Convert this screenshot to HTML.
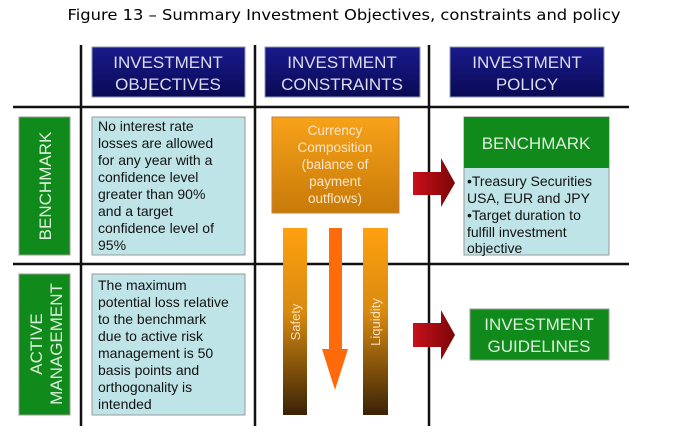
<!DOCTYPE html>
<html><head><meta charset="utf-8"><style>
html,body{margin:0;padding:0;background:#fff;}
svg{display:block;}
text{font-family:"Liberation Sans",Arial,sans-serif;}
</style></head><body>
<svg width="688" height="446" viewBox="0 0 688 446" xmlns="http://www.w3.org/2000/svg">
<defs>
<linearGradient id="blue" x1="0" y1="0" x2="0" y2="1"><stop offset="0" stop-color="#1a1a8c"/><stop offset="1" stop-color="#0a0a55"/></linearGradient>
<linearGradient id="org" x1="0" y1="0" x2="0" y2="1"><stop offset="0" stop-color="#f7a21a"/><stop offset="1" stop-color="#c87a08"/></linearGradient>
<linearGradient id="bar" x1="0" y1="0" x2="0" y2="1"><stop offset="0" stop-color="#ffa010"/><stop offset="0.45" stop-color="#d88a10"/><stop offset="1" stop-color="#3a2206"/></linearGradient>
<linearGradient id="red" x1="0" y1="0" x2="1" y2="0"><stop offset="0" stop-color="#c8101a"/><stop offset="1" stop-color="#7a0608"/></linearGradient>
</defs>
<text x="344" y="20" text-anchor="middle" font-size="15" textLength="553" lengthAdjust="spacingAndGlyphs" style="font-family:'DejaVu Sans',sans-serif">Figure 13 – Summary Investment Objectives, constraints and policy</text>

<!-- grid lines -->
<g stroke="#111" stroke-width="2.5">
<line x1="81" y1="45" x2="81" y2="426"/>
<line x1="255" y1="45" x2="255" y2="426"/>
<line x1="429" y1="45" x2="429" y2="426"/>
<line x1="13" y1="107" x2="629" y2="107"/>
<line x1="13" y1="264" x2="629" y2="264"/>
</g>

<!-- headers -->
<g font-size="17" fill="#dde" text-anchor="middle">
<rect x="92" y="47" width="153" height="50" fill="url(#blue)" stroke="#8899aa"/>
<text x="168" y="68">INVESTMENT</text><text x="168" y="90">OBJECTIVES</text>
<rect x="265" y="47" width="155" height="50" fill="url(#blue)" stroke="#8899aa"/>
<text x="342" y="68">INVESTMENT</text><text x="342" y="90">CONSTRAINTS</text>
<rect x="450" y="47" width="154" height="50" fill="url(#blue)" stroke="#8899aa"/>
<text x="527" y="68">INVESTMENT</text><text x="527" y="90">POLICY</text>
</g>

<!-- left green labels -->
<rect x="19" y="117" width="51" height="138" fill="#108a1a" stroke="#999"/>
<text transform="translate(51,186) rotate(-90)" text-anchor="middle" font-size="17" fill="#ddf0dd">BENCHMARK</text>
<rect x="19" y="274" width="51" height="141" fill="#108a1a" stroke="#999"/>
<text transform="translate(42,344) rotate(-90)" text-anchor="middle" font-size="17" fill="#ddf0dd">ACTIVE</text>
<text transform="translate(62,344) rotate(-90)" text-anchor="middle" font-size="17" fill="#ddf0dd">MANAGEMENT</text>

<!-- objective boxes -->
<rect x="92" y="117" width="153" height="138" fill="#bfe4e8" stroke="#999"/>
<g font-size="14" fill="#111">
<text x="98" y="131">No interest rate</text>
<text x="98" y="148">losses are allowed</text>
<text x="98" y="165">for any year with a</text>
<text x="98" y="182">confidence level</text>
<text x="98" y="199">greater than 90%</text>
<text x="98" y="216">and a target</text>
<text x="98" y="233">confidence level of</text>
<text x="98" y="250">95%</text>
</g>
<rect x="92" y="274" width="153" height="141" fill="#bfe4e8" stroke="#999"/>
<g font-size="14" fill="#111">
<text x="98" y="290">The maximum</text>
<text x="98" y="307">potential loss relative</text>
<text x="98" y="324">to the benchmark</text>
<text x="98" y="341">due to active risk</text>
<text x="98" y="358">management is 50</text>
<text x="98" y="375">basis points and</text>
<text x="98" y="392">orthogonality is</text>
<text x="98" y="409">intended</text>
</g>

<!-- constraints -->
<rect x="272" y="117" width="127" height="96" fill="url(#org)" stroke="#c08040"/>
<g font-size="13.5" fill="#fbe6c8" text-anchor="middle">
<text x="335" y="135">Currency</text>
<text x="335" y="152">Composition</text>
<text x="335" y="169">(balance of</text>
<text x="335" y="186">payment</text>
<text x="335" y="203">outflows)</text>
</g>
<rect x="283" y="228" width="24" height="187" fill="url(#bar)"/>
<rect x="363" y="228" width="25" height="187" fill="url(#bar)"/>
<polygon points="329,228 342,228 342,349 348,349 335,390 322,349 329,349" fill="#ff6a0a"/>
<text transform="translate(300,322) rotate(-90)" text-anchor="middle" font-size="13" fill="#f4e2c0">Safety</text>
<text transform="translate(380,322) rotate(-90)" text-anchor="middle" font-size="13" fill="#f4e2c0">Liquidity</text>

<!-- red arrows -->
<polygon points="413,172 441,172 441,158 455,183 441,207 441,195 413,195" fill="url(#red)"/>
<polygon points="413,323 441,323 441,310 455,335 441,360 441,347 413,347" fill="url(#red)"/>

<!-- policy -->
<rect x="464" y="117" width="145" height="138" fill="#bfe4e8" stroke="#999"/>
<rect x="464" y="117" width="145" height="51" fill="#108a1a"/>
<text x="536" y="149" text-anchor="middle" font-size="17" fill="#ddf0dd">BENCHMARK</text>
<g font-size="14" fill="#111">
<text x="467" y="186">•Treasury Securities</text>
<text x="467" y="203">USA, EUR and JPY</text>
<text x="467" y="220">•Target duration to</text>
<text x="467" y="237">fulfill investment</text>
<text x="467" y="253">objective</text>
</g>
<rect x="470" y="309" width="139" height="51" fill="#108a1a" stroke="#999"/>
<text x="539" y="330" text-anchor="middle" font-size="17" fill="#ddf0dd">INVESTMENT</text>
<text x="539" y="352" text-anchor="middle" font-size="17" fill="#ddf0dd">GUIDELINES</text>
</svg>
</body></html>
